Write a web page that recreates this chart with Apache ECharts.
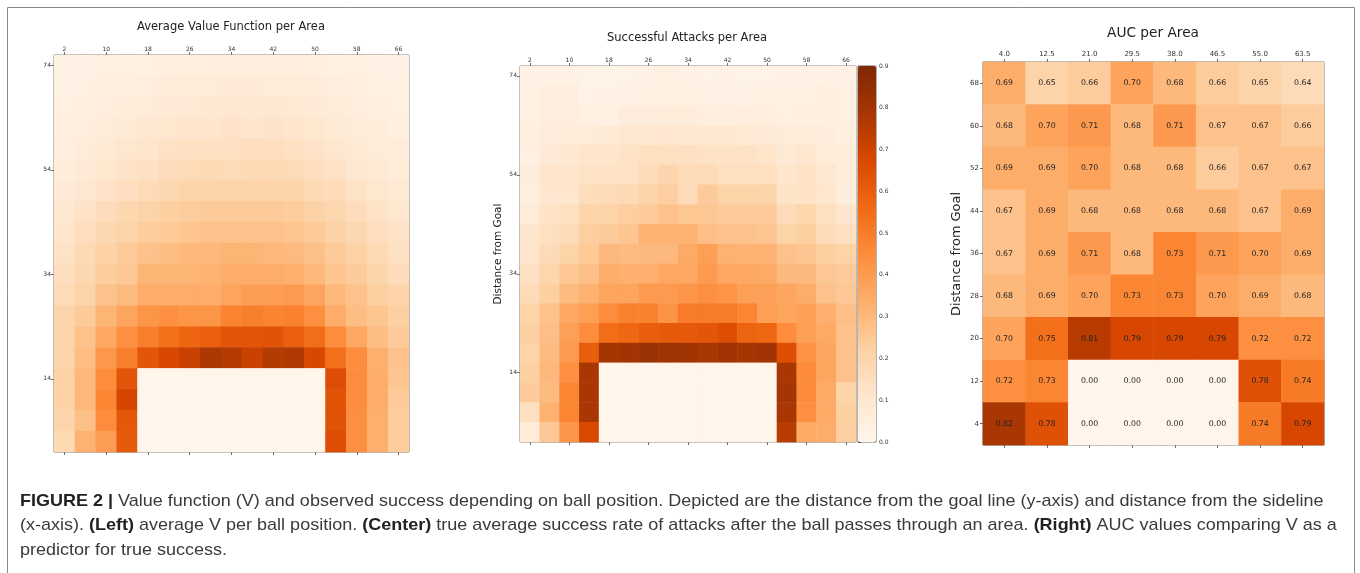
<!DOCTYPE html>
<html>
<head>
<meta charset="utf-8">
<script src="https://cdn.jsdelivr.net/npm/echarts@6/dist/echarts.min.js"></script>
<style>
html,body{margin:0;padding:0;background:#fff;}
#chart{width:1360px;height:573px;}
</style>
</head>
<body>
<div id="chart"></div>
<script>
// ---------- categories / tick labels ----------
const xCategories = [2, 6, 10, 14, 18, 22, 26, 30, 34, 38, 42, 46, 50, 54, 58, 62, 66];
const yCategories = [74, 70, 66, 62, 58, 54, 50, 46, 42, 38, 34, 30, 26, 22, 18, 14, 10, 6, 2];
const xTickLabels = [2, 10, 18, 26, 34, 42, 50, 58, 66];
const yTickLabels = [74, 54, 34, 14];
const colorbarTicks = [0, 0.1, 0.2, 0.3, 0.4, 0.5, 0.6, 0.7, 0.8, 0.9];

// ---------- Average value function (rows from 74 down to 2) ----------
const avgValue = [
  [0.03,0.035,0.04,0.04,0.045,0.05,0.05,0.06,0.06,0.06,0.06,0.055,0.05,0.045,0.04,0.035,0.03],
  [0.035,0.04,0.05,0.05,0.06,0.07,0.08,0.08,0.09,0.09,0.08,0.08,0.07,0.06,0.05,0.045,0.04],
  [0.04,0.05,0.06,0.07,0.08,0.09,0.1,0.11,0.11,0.11,0.11,0.1,0.09,0.08,0.06,0.05,0.04],
  [0.05,0.06,0.08,0.09,0.11,0.12,0.13,0.13,0.14,0.13,0.14,0.13,0.12,0.1,0.08,0.07,0.05],
  [0.06,0.08,0.1,0.12,0.13,0.15,0.16,0.16,0.16,0.17,0.17,0.16,0.14,0.12,0.1,0.08,0.07],
  [0.07,0.09,0.12,0.14,0.16,0.18,0.19,0.2,0.19,0.2,0.2,0.19,0.17,0.15,0.12,0.1,0.08],
  [0.09,0.11,0.14,0.17,0.19,0.21,0.22,0.23,0.23,0.23,0.23,0.22,0.2,0.18,0.15,0.12,0.1],
  [0.11,0.14,0.18,0.21,0.23,0.25,0.26,0.27,0.27,0.27,0.27,0.26,0.24,0.21,0.18,0.15,0.12],
  [0.13,0.17,0.21,0.23,0.26,0.27,0.29,0.3,0.3,0.3,0.3,0.29,0.27,0.24,0.21,0.17,0.14],
  [0.15,0.2,0.24,0.27,0.3,0.32,0.34,0.34,0.35,0.35,0.34,0.33,0.31,0.27,0.24,0.2,0.16],
  [0.17,0.21,0.26,0.28,0.35,0.35,0.35,0.36,0.38,0.38,0.38,0.37,0.34,0.29,0.27,0.22,0.18],
  [0.19,0.23,0.3,0.33,0.38,0.38,0.38,0.38,0.41,0.44,0.44,0.45,0.41,0.34,0.3,0.25,0.23],
  [0.22,0.27,0.35,0.41,0.47,0.49,0.47,0.47,0.53,0.55,0.53,0.54,0.49,0.38,0.32,0.29,0.25],
  [0.23,0.3,0.4,0.49,0.55,0.6,0.64,0.66,0.7,0.7,0.71,0.66,0.61,0.5,0.4,0.32,0.27],
  [0.23,0.32,0.46,0.55,0.7,0.75,0.79,0.86,0.84,0.79,0.84,0.85,0.75,0.6,0.5,0.37,0.3],
  [0.24,0.34,0.5,0.7,0,0,0,0,0,0,0,0,0,0.73,0.5,0.38,0.29],
  [0.24,0.34,0.52,0.76,0,0,0,0,0,0,0,0,0,0.71,0.5,0.38,0.27],
  [0.22,0.31,0.5,0.69,0,0,0,0,0,0,0,0,0,0.71,0.49,0.37,0.26],
  [0.2,0.36,0.44,0.68,0,0,0,0,0,0,0,0,0,0.73,0.49,0.37,0.26]
];

// ---------- Successful attacks (rows from 74 down to 2) ----------
const successRate = [
  [0.03,0.03,0.03,0.02,0.01,0.015,0.025,0.035,0.03,0.02,0.025,0.015,0.02,0.03,0.03,0.025,0.025],
  [0.03,0.05,0.05,0.02,0.025,0.03,0.035,0.04,0.04,0.03,0.03,0.025,0.035,0.04,0.035,0.045,0.035],
  [0.035,0.05,0.05,0.035,0.04,0.06,0.06,0.065,0.065,0.055,0.055,0.055,0.055,0.04,0.045,0.045,0.04],
  [0.045,0.06,0.07,0.075,0.085,0.1,0.1,0.11,0.1,0.1,0.1,0.09,0.08,0.075,0.065,0.06,0.045],
  [0.04,0.08,0.1,0.12,0.12,0.13,0.15,0.15,0.14,0.135,0.135,0.135,0.125,0.09,0.11,0.07,0.065],
  [0.06,0.12,0.12,0.13,0.13,0.135,0.17,0.2,0.17,0.17,0.145,0.145,0.15,0.115,0.13,0.105,0.07],
  [0.045,0.11,0.11,0.16,0.17,0.18,0.205,0.23,0.17,0.24,0.21,0.21,0.2,0.13,0.13,0.11,0.06],
  [0.07,0.13,0.145,0.205,0.21,0.23,0.24,0.27,0.255,0.255,0.24,0.24,0.24,0.17,0.195,0.145,0.12],
  [0.115,0.145,0.17,0.23,0.24,0.26,0.32,0.32,0.32,0.28,0.27,0.27,0.26,0.21,0.225,0.17,0.145],
  [0.12,0.17,0.21,0.245,0.3,0.295,0.3,0.3,0.35,0.39,0.325,0.32,0.32,0.27,0.26,0.225,0.21],
  [0.14,0.195,0.25,0.28,0.34,0.33,0.33,0.36,0.36,0.405,0.36,0.355,0.35,0.3,0.3,0.255,0.24],
  [0.17,0.225,0.295,0.325,0.37,0.37,0.405,0.405,0.42,0.44,0.425,0.385,0.385,0.365,0.34,0.27,0.25],
  [0.21,0.27,0.36,0.39,0.45,0.485,0.485,0.43,0.505,0.505,0.505,0.475,0.39,0.37,0.39,0.33,0.28],
  [0.225,0.28,0.385,0.45,0.55,0.57,0.6,0.615,0.615,0.63,0.655,0.58,0.57,0.45,0.39,0.35,0.27],
  [0.21,0.295,0.405,0.6,0.79,0.8,0.82,0.81,0.8,0.78,0.8,0.79,0.8,0.655,0.43,0.365,0.27],
  [0.225,0.3,0.44,0.78,0,0,0,0,0,0,0,0,0,0.78,0.455,0.365,0.27],
  [0.24,0.295,0.475,0.78,0,0,0,0,0,0,0,0,0,0.79,0.455,0.35,0.21],
  [0.145,0.325,0.475,0.78,0,0,0,0,0,0,0,0,0,0.78,0.44,0.35,0.225],
  [0.07,0.25,0.42,0.67,0,0,0,0,0,0,0,0,0,0.745,0.35,0.34,0.23]
];

// ---------- AUC per area ----------
const aucX = ['4.0', '12.5', '21.0', '29.5', '38.0', '46.5', '55.0', '63.5'];
const aucY = [68, 60, 52, 44, 36, 28, 20, 12, 4];
const auc = [
  [0.69,0.65,0.66,0.70,0.68,0.66,0.65,0.64],
  [0.68,0.70,0.71,0.68,0.71,0.67,0.67,0.66],
  [0.69,0.69,0.70,0.68,0.68,0.66,0.67,0.67],
  [0.67,0.69,0.68,0.68,0.68,0.68,0.67,0.69],
  [0.67,0.69,0.71,0.68,0.73,0.71,0.70,0.69],
  [0.68,0.69,0.70,0.73,0.73,0.70,0.69,0.68],
  [0.70,0.75,0.81,0.79,0.79,0.79,0.72,0.72],
  [0.72,0.73,0.00,0.00,0.00,0.00,0.78,0.74],
  [0.82,0.78,0.00,0.00,0.00,0.00,0.74,0.79]
];

// ---------- build ----------
const ORANGES = ['#fff5eb','#fee6ce','#fdd0a2','#fdae6b','#fd8d3c','#f16913','#d94801','#a63603','#7f2704'];
function toCells(rows) {
  const out = [];
  rows.forEach((row, r) => row.forEach((v, c) => out.push([c, r, v])));
  return out;
}
const AX = '#444', LB = '#333', FONT = 'DejaVu Sans';

function catX(grid, data, pos, showLabel, labelFilter, fs, margin) {
  const f = labelFilter ? ((i, v) => labelFilter.includes(isNaN(+v) ? v : +v)) : 0;
  return {
    type: 'category', gridIndex: grid, data: data, position: pos,
    axisLine: {show: false}, splitLine: {show: false},
    axisTick: {show: true, alignWithLabel: true, interval: f, length: 3, lineStyle: {color: AX, width: 0.8}},
    axisLabel: {show: showLabel, interval: f, fontSize: fs, color: LB, margin: margin, fontFamily: FONT}
  };
}
function catY(grid, data, labelFilter, fs, margin) {
  const f = labelFilter ? ((i, v) => labelFilter.includes(+v)) : 0;
  return {
    type: 'category', gridIndex: grid, data: data, inverse: true, position: 'left',
    axisLine: {show: false}, splitLine: {show: false},
    axisTick: {show: true, alignWithLabel: true, interval: f, length: 3, lineStyle: {color: AX, width: 0.8}},
    axisLabel: {show: true, interval: f, fontSize: fs, color: LB, margin: margin, fontFamily: FONT}
  };
}

const gridStyle = {show: true, borderColor: '#666', borderWidth: 1, backgroundColor: 'transparent', containLabel: false};
const CAP_FONT = '17px "Liberation Sans", Arial, sans-serif';
const CAP_BOLD = 'bold 17px "Liberation Sans", Arial, sans-serif';

const option = {
  animation: false,
  backgroundColor: '#fff',
  grid: [
    Object.assign({left: 54, top: 55, width: 355, height: 397}, gridStyle),
    Object.assign({left: 520, top: 66, width: 336, height: 376}, gridStyle),
    Object.assign({left: 983, top: 62, width: 341, height: 383}, gridStyle),
    Object.assign({left: 858, top: 66, width: 18, height: 376}, gridStyle)
  ],
  xAxis: [
    catX(0, xCategories, 'top', true, xTickLabels, 6, 3),
    catX(0, xCategories, 'bottom', false, xTickLabels, 6, 3),
    catX(1, xCategories, 'top', true, xTickLabels, 6, 3),
    catX(1, xCategories, 'bottom', false, xTickLabels, 6, 3),
    catX(2, aucX, 'top', true, null, 7, 4),
    catX(2, aucX, 'bottom', false, null, 7, 4),
    {type: 'value', gridIndex: 3, min: 0, max: 1, show: false}
  ],
  yAxis: [
    catY(0, yCategories, yTickLabels, 6, 3),
    catY(1, yCategories, yTickLabels, 6, 3),
    catY(2, aucY, null, 7, 4),
    {
      type: 'value', gridIndex: 3, min: 0, max: 0.9, interval: 0.1, position: 'right',
      axisLine: {show: false}, splitLine: {show: false},
      axisTick: {show: true, length: 3, lineStyle: {color: AX, width: 0.8}},
      axisLabel: {fontSize: 6, color: LB, margin: 3, fontFamily: FONT,
        formatter: v => colorbarTicks.some(t => Math.abs(t - v) < 1e-6) ? v.toFixed(1) : ''}
    }
  ],
  visualMap: [
    {type: 'continuous', seriesIndex: 0, min: 0, max: 1, show: false, inRange: {color: ORANGES}},
    {type: 'continuous', seriesIndex: 1, min: 0, max: 0.9, show: true, calculable: false,
      orient: 'vertical', left: 858, top: 66, itemWidth: 18, itemHeight: 376, padding: 0,
      text: null, showLabel: false, inRange: {color: ORANGES}},
    {type: 'continuous', seriesIndex: 2, min: 0.59, max: 0.855, show: false,
      inRange: {color: ORANGES}, outOfRange: {color: '#fff5eb'}}
  ],
  series: [
    {type: 'heatmap', xAxisIndex: 0, yAxisIndex: 0, data: toCells(avgValue), emphasis: {disabled: true}, progressive: 0},
    {type: 'heatmap', xAxisIndex: 2, yAxisIndex: 1, data: toCells(successRate), emphasis: {disabled: true}, progressive: 0},
    {type: 'heatmap', xAxisIndex: 4, yAxisIndex: 2, data: toCells(auc), emphasis: {disabled: true}, progressive: 0,
      label: {show: true, formatter: p => p.value[2].toFixed(2), fontSize: 7.8, color: '#222', fontFamily: FONT}},
    {type: 'scatter', xAxisIndex: 6, yAxisIndex: 3, data: [], silent: true}
  ],
  graphic: [
    {type: 'rect', shape: {x: 7.5, y: 7.5, width: 1347, height: 600}, style: {fill: 'none', stroke: '#8a8a8a', lineWidth: 1}, silent: true},
    {type: 'text', x: 231, y: 27, style: {text: 'Average Value Function per Area', font: '11.5px "DejaVu Sans"', fill: '#222', textAlign: 'center', textVerticalAlign: 'middle'}},
    {type: 'text', x: 687, y: 38, style: {text: 'Successful Attacks per Area', font: '11.5px "DejaVu Sans"', fill: '#222', textAlign: 'center', textVerticalAlign: 'middle'}},
    {type: 'text', x: 1153, y: 33, style: {text: 'AUC per Area', font: '13.7px "DejaVu Sans"', fill: '#222', textAlign: 'center', textVerticalAlign: 'middle'}},
    {type: 'text', x: 498, y: 254, rotation: Math.PI / 2, style: {text: 'Distance from Goal', font: '10.5px "DejaVu Sans"', fill: '#222', textAlign: 'center', textVerticalAlign: 'middle'}},
    {type: 'text', x: 957, y: 254, rotation: Math.PI / 2, style: {text: 'Distance from Goal', font: '12.9px "DejaVu Sans"', fill: '#222', textAlign: 'center', textVerticalAlign: 'middle'}},
    {type: 'text', x: 20, y: 501, scaleX: 1.059, style: {
      text: '{b|FIGURE 2 |} Value function (V) and observed success depending on ball position. Depicted are the distance from the goal line (y-axis) and distance from the sideline',
      font: CAP_FONT, fill: '#3a3a3a', textVerticalAlign: 'middle',
      rich: {b: {font: CAP_BOLD, fill: '#222'}}}},
    {type: 'text', x: 20, y: 525.5, scaleX: 1.059, style: {
      text: '(x-axis). {b|(Left)} average V per ball position. {b|(Center)} true average success rate of attacks after the ball passes through an area. {b|(Right)} AUC values comparing V as a',
      font: CAP_FONT, fill: '#3a3a3a', textVerticalAlign: 'middle',
      rich: {b: {font: CAP_BOLD, fill: '#222'}}}},
    {type: 'text', x: 20, y: 550, scaleX: 1.059, style: {
      text: 'predictor for true success.',
      font: CAP_FONT, fill: '#3a3a3a', textVerticalAlign: 'middle'}}
  ]
};

const chart = echarts.init(document.getElementById('chart'), null, {renderer: 'canvas'});
chart.setOption(option);
</script>
</body>
</html>
